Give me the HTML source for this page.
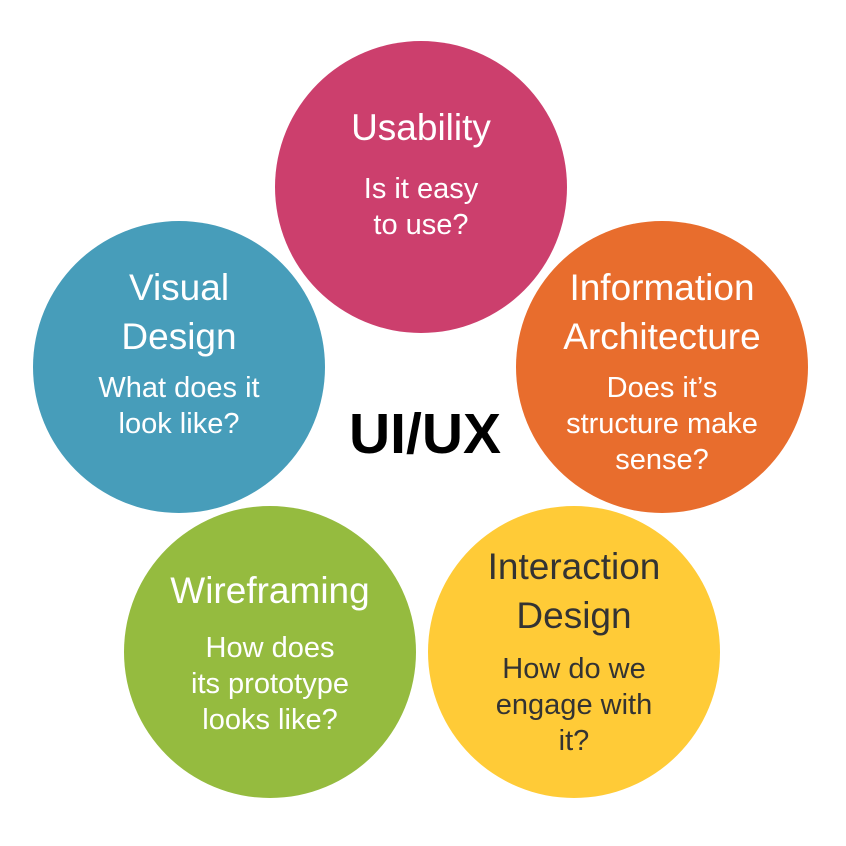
<!DOCTYPE html>
<html><head><style>
html,body{margin:0;padding:0;background:#fff;}
svg{display:block;}
text{font-family:"Liberation Sans",sans-serif;text-anchor:middle;}
.t{font-size:37px;fill:#fff;font-weight:normal;}
.b{font-size:29px;fill:#fff;}
.d{fill:#333;}
</style></head><body>
<svg width="846" height="846" viewBox="0 0 846 846">
<circle cx="421" cy="187" r="146" fill="#CC3F6D"/>
<circle cx="179" cy="367" r="146" fill="#479DBA"/>
<circle cx="662" cy="367" r="146" fill="#E86D2D"/>
<circle cx="270" cy="652" r="146" fill="#95BB3F"/>
<circle cx="574" cy="652" r="146" fill="#FFCB37"/>

<text class="t" x="421" y="140">Usability</text>
<text class="b" x="421" y="198">Is it easy</text>
<text class="b" x="421" y="234">to use?</text>

<text class="t" x="179" y="300">Visual</text>
<text class="t" x="179" y="349">Design</text>
<text class="b" x="179" y="397">What does it</text>
<text class="b" x="179" y="433">look like?</text>

<text class="t" x="662" y="300">Information</text>
<text class="t" x="662" y="349">Architecture</text>
<text class="b" x="662" y="397">Does it’s</text>
<text class="b" x="662" y="433">structure make</text>
<text class="b" x="662" y="469">sense?</text>

<text class="t" x="270" y="603">Wireframing</text>
<text class="b" x="270" y="657">How does</text>
<text class="b" x="270" y="693">its prototype</text>
<text class="b" x="270" y="729">looks like?</text>

<text class="t d" x="574" y="579">Interaction</text>
<text class="t d" x="574" y="628">Design</text>
<text class="b d" x="574" y="678">How do we</text>
<text class="b d" x="574" y="714">engage with</text>
<text class="b d" x="574" y="750">it?</text>

<text x="425" y="453" style="font-size:57px;font-weight:bold;fill:#000;">UI/UX</text>
</svg>
</body></html>
